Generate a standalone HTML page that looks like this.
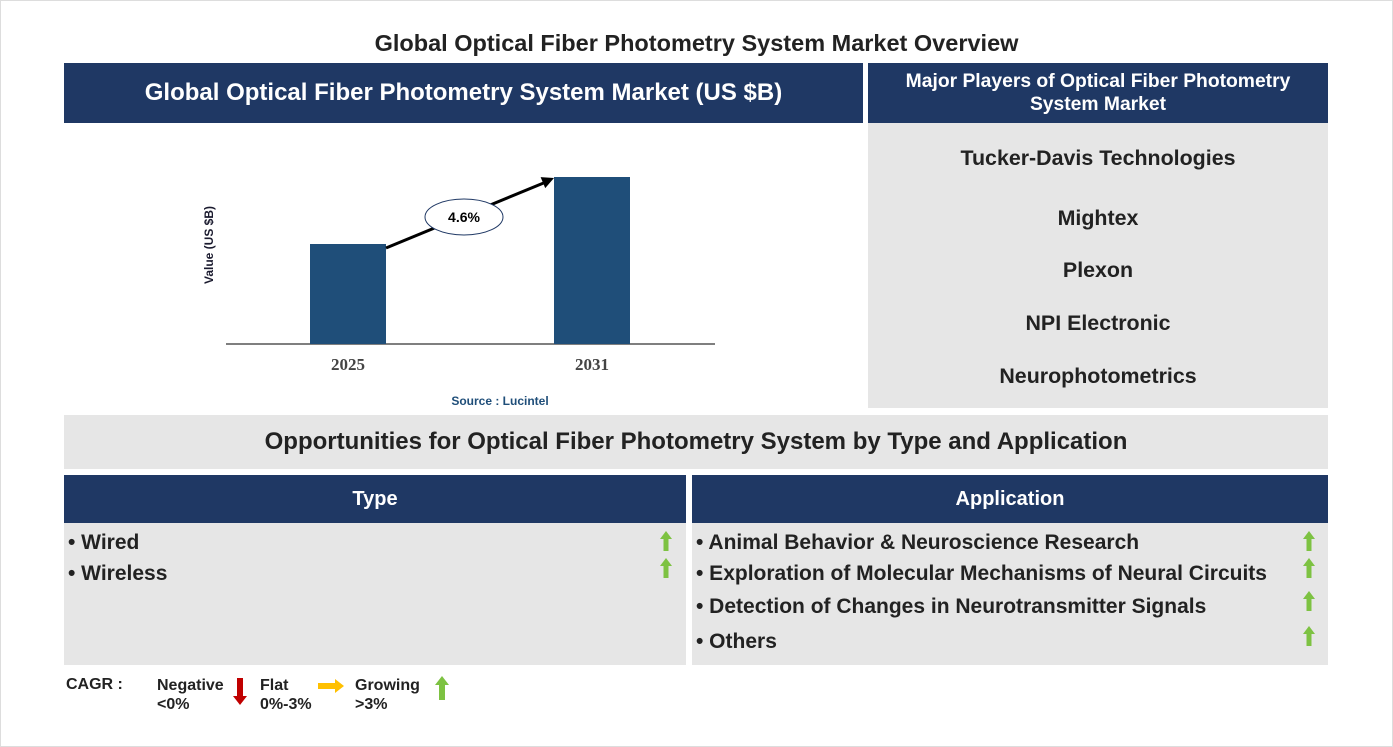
<!DOCTYPE html>
<html><head><meta charset="utf-8"><style>
body{margin:0;width:1393px;height:747px;background:#fff;font-family:"Liberation Sans",Arial,sans-serif;position:relative;overflow:hidden}
.a{position:absolute;box-sizing:border-box}
.hd{background:#1f3864;color:#fff;font-weight:bold;display:flex;align-items:center;justify-content:center;text-align:center}
.gr{background:#e6e6e6}
.t{position:absolute;font-weight:bold;color:#222;font-size:21px;white-space:nowrap}
.pl{position:absolute;left:868px;width:460px;text-align:center;font-weight:bold;font-size:21.4px;color:#222}
</style></head><body>
<div class="a" style="left:0;top:0;width:1393px;height:747px;border:1px solid #ddd"></div>
<div class="a" style="left:0;top:30px;width:1393px;text-align:center;font-weight:bold;font-size:23.5px;color:#222">Global Optical Fiber Photometry System Market Overview</div>
<div class="a hd" style="left:64px;top:63px;width:799px;height:60px;font-size:24px">Global Optical Fiber Photometry System Market (US $B)</div>
<div class="a hd" style="left:868px;top:63px;width:460px;height:60px;font-size:19.3px;line-height:23px">Major Players of Optical Fiber Photometry<br>System Market</div>
<div class="a gr" style="left:868px;top:123px;width:460px;height:285px"></div>
<div class="pl" style="top:146px">Tucker-Davis Technologies</div>
<div class="pl" style="top:206px">Mightex</div>
<div class="pl" style="top:258px">Plexon</div>
<div class="pl" style="top:311px">NPI Electronic</div>
<div class="pl" style="top:364px">Neurophotometrics</div>

<svg class="a" style="left:0;top:0" width="870" height="415" id="chart"></svg>

<div class="a gr" style="left:64px;top:415px;width:1264px;height:54px;display:flex;align-items:center;justify-content:center;font-weight:bold;font-size:24px;color:#222">Opportunities for Optical Fiber Photometry System by Type and Application</div>
<div class="a hd" style="left:64px;top:475px;width:622px;height:48px;font-size:20px">Type</div>
<div class="a hd" style="left:692px;top:475px;width:636px;height:48px;font-size:20px">Application</div>
<div class="a gr" style="left:64px;top:523px;width:622px;height:142px"></div>
<div class="a gr" style="left:692px;top:523px;width:636px;height:142px"></div>
<div class="t" style="left:68px;top:531px">• Wired</div>
<div class="t" style="left:68px;top:562px">• Wireless</div>
<div class="t" style="left:696px;top:531px">• Animal Behavior &amp; Neuroscience Research</div>
<div class="t" style="left:696px;top:562px">• Exploration of Molecular Mechanisms of Neural Circuits</div>
<div class="t" style="left:696px;top:595px">• Detection of Changes in Neurotransmitter Signals</div>
<div class="t" style="left:696px;top:630px">• Others</div>
<svg class="a" style="left:0;top:0" width="1393" height="747">
<g fill="#7dc242">
<path d="M666 531 l6 8 h-3.5 v12 h-5 v-12 h-3.5z"/>
<path d="M666 558 l6 8 h-3.5 v12 h-5 v-12 h-3.5z"/>
<path d="M1309 531 l6 8 h-3.5 v12 h-5 v-12 h-3.5z"/>
<path d="M1309 558 l6 8 h-3.5 v12 h-5 v-12 h-3.5z"/>
<path d="M1309 591 l6 8 h-3.5 v12 h-5 v-12 h-3.5z"/>
<path d="M1309 626 l6 8 h-3.5 v12 h-5 v-12 h-3.5z"/>
<path d="M442 676 l7 9 h-4 v15 h-6 v-15 h-4z"/>
</g>
<path d="M240 705 l-7 -9 h4 v-18 h6 v18 h4z" fill="#c00000"/>
<path d="M344 686 l-9 -7 v4 h-17 v6 h17 v4z" fill="#ffc000"/>
</svg>
<div class="t" style="left:66px;top:676px;font-size:16px">CAGR&nbsp;:</div>
<div class="t" style="left:157px;top:676px;font-size:16px;line-height:19px">Negative<br>&lt;0%</div>
<div class="t" style="left:260px;top:676px;font-size:16px;line-height:19px">Flat<br>0%-3%</div>
<div class="t" style="left:355px;top:676px;font-size:16px;line-height:19px">Growing<br>&gt;3%</div>

<script>
const categories=["2025","2031"];
const values=[1.0,1.67];
const cagrLabel="4.6%";
const NS="http://www.w3.org/2000/svg";
const svg=document.getElementById('chart');
const base=344, unit=100;
const xPos=i=>[348,592][i];
const y=v=>base-v*unit;
function mk(tag,attrs){const e=document.createElementNS(NS,tag);for(const k in attrs)e.setAttribute(k,attrs[k]);svg.appendChild(e);return e;}
const ax=mk('line',{x1:226,x2:715,y1:base,y2:base,stroke:'#333','stroke-width':1.2});


categories.forEach((c,i)=>{
 const r=mk('rect',{x:xPos(i)-38,y:y(values[i]),width:76,height:values[i]*unit,fill:'#1f4e79'});
 
 
 const t=mk('text',{x:xPos(i),y:370,'text-anchor':'middle','font-family':'Liberation Serif,serif','font-weight':'bold','font-size':17,fill:'#444'});
 t.textContent=c;
 
 
});
const x1=xPos(0)+38,y1=y(values[0])+4,x2=xPos(1)-38,y2=y(values[1])+1;
const ln=mk('line',{x1:x1,y1:y1,x2:x2-8,y2:y2+4,stroke:'#000','stroke-width':3});


const ang=Math.atan2(y2-y1,x2-x1);
const hx=x2,hy=y2,L=12,W=6;
const pts=[[hx,hy],[hx-L*Math.cos(ang)+W*Math.sin(ang),hy-L*Math.sin(ang)-W*Math.cos(ang)],[hx-L*Math.cos(ang)-W*Math.sin(ang),hy-L*Math.sin(ang)+W*Math.cos(ang)]];
const head=mk('polygon',{points:pts.map(p=>p.join(',')).join(' '),fill:'#000'});


const ex=(x1+x2)/2-6,ey=(y1+y2)/2+4;
const el=mk('ellipse',{cx:ex,cy:ey,rx:39,ry:18,fill:'#fff',stroke:'#1f3864','stroke-width':1});


const ct=mk('text',{x:ex,y:ey+5,'text-anchor':'middle','font-weight':'bold','font-size':14,fill:'#000'});
ct.textContent=cagrLabel;


const yt=mk('text',{x:0,y:0,transform:'translate(213,245) rotate(-90)','text-anchor':'middle','font-weight':'bold','font-size':12,fill:'#1a1a2e'});
yt.textContent='Value (US $B)';


const src=mk('text',{x:500,y:405,'text-anchor':'middle','font-weight':'bold','font-size':12,fill:'#1f4e79'});
src.textContent='Source : Lucintel';


</script>
</body></html>
